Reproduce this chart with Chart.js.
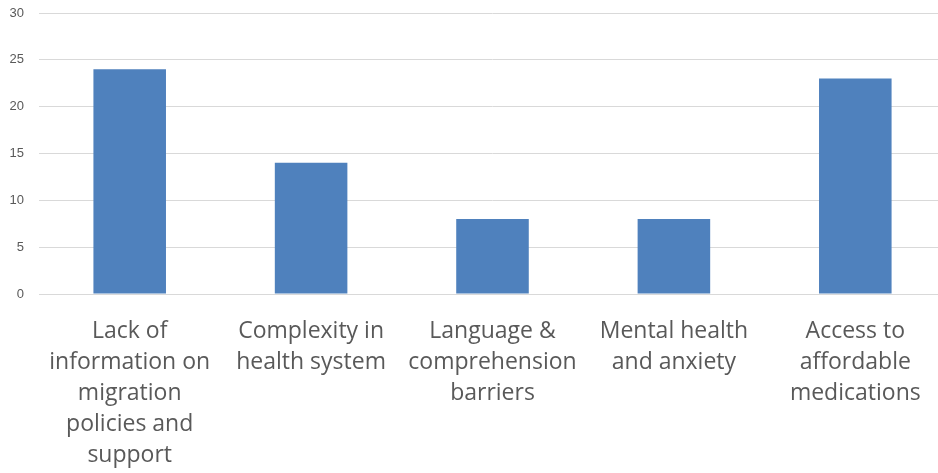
<!DOCTYPE html>
<html>
<head>
<meta charset="utf-8">
<script src="https://cdn.jsdelivr.net/npm/chart.js@4"></script>
<style>
    html, body { margin: 0; padding: 0; background: #fff; overflow: hidden; }
    #wrap { position: relative; width: 946px; height: 473px; }
</style>
</head>
<body>
<div id="wrap"><canvas id="barChart"></canvas></div>
<script>
// Chart data
const categories = [
    ['Lack of', 'information on', 'migration', 'policies and', 'support'],
    ['Complexity in', 'health system'],
    ['Language &', 'comprehension', 'barriers'],
    ['Mental health', 'and anxiety'],
    ['Access to', 'affordable', 'medications']
];
const counts = [24, 14, 8, 8, 23];
const yTicks = [0, 5, 10, 15, 20, 25, 30];

const ctx = document.getElementById('barChart');
new Chart(ctx, {
    type: 'bar',
    data: {
        labels: categories,
        datasets: [{
            data: counts,
            backgroundColor: '#4f81bd',
            borderWidth: 0,
            barPercentage: 0.5,
            categoryPercentage: 0.8
        }]
    },
    options: {
        responsive: true,
        maintainAspectRatio: false,
        animation: false,
        layout: { padding: { top: 13, right: 0, left: 0, bottom: 0 } },
        plugins: {
            legend: { display: false },
            tooltip: { enabled: false }
        },
        scales: {
            x: {
                grid: { display: false, drawTicks: false },
                border: { display: true, color: '#d9d9d9', width: 1 },
                ticks: {
                    autoSkip: false,
                    maxRotation: 0,
                    minRotation: 0,
                    padding: 22,
                    color: '#595959',
                    font: { family: 'Open Sans', size: 23, lineHeight: '31px' }
                },
                afterFit: function(scale) {
                    scale.height = 179;
                    scale.paddingLeft = 0;
                    scale.paddingRight = 0;
                }
            },
            y: {
                min: 0,
                max: 30,
                afterBuildTicks: function(scale) {
                    scale.ticks = yTicks.map(v => ({ value: v }));
                },
                grid: { color: '#d9d9d9', drawTicks: false },
                border: { display: false },
                ticks: {
                    padding: 15,
                    color: '#595959',
                    font: { family: 'Liberation Sans', size: 13 }
                },
                afterFit: function(scale) {
                    scale.width = 39;
                    scale.paddingTop = 0;
                    scale.paddingBottom = 0;
                }
            }
        }
    }
});
</script>
</body>
</html>
